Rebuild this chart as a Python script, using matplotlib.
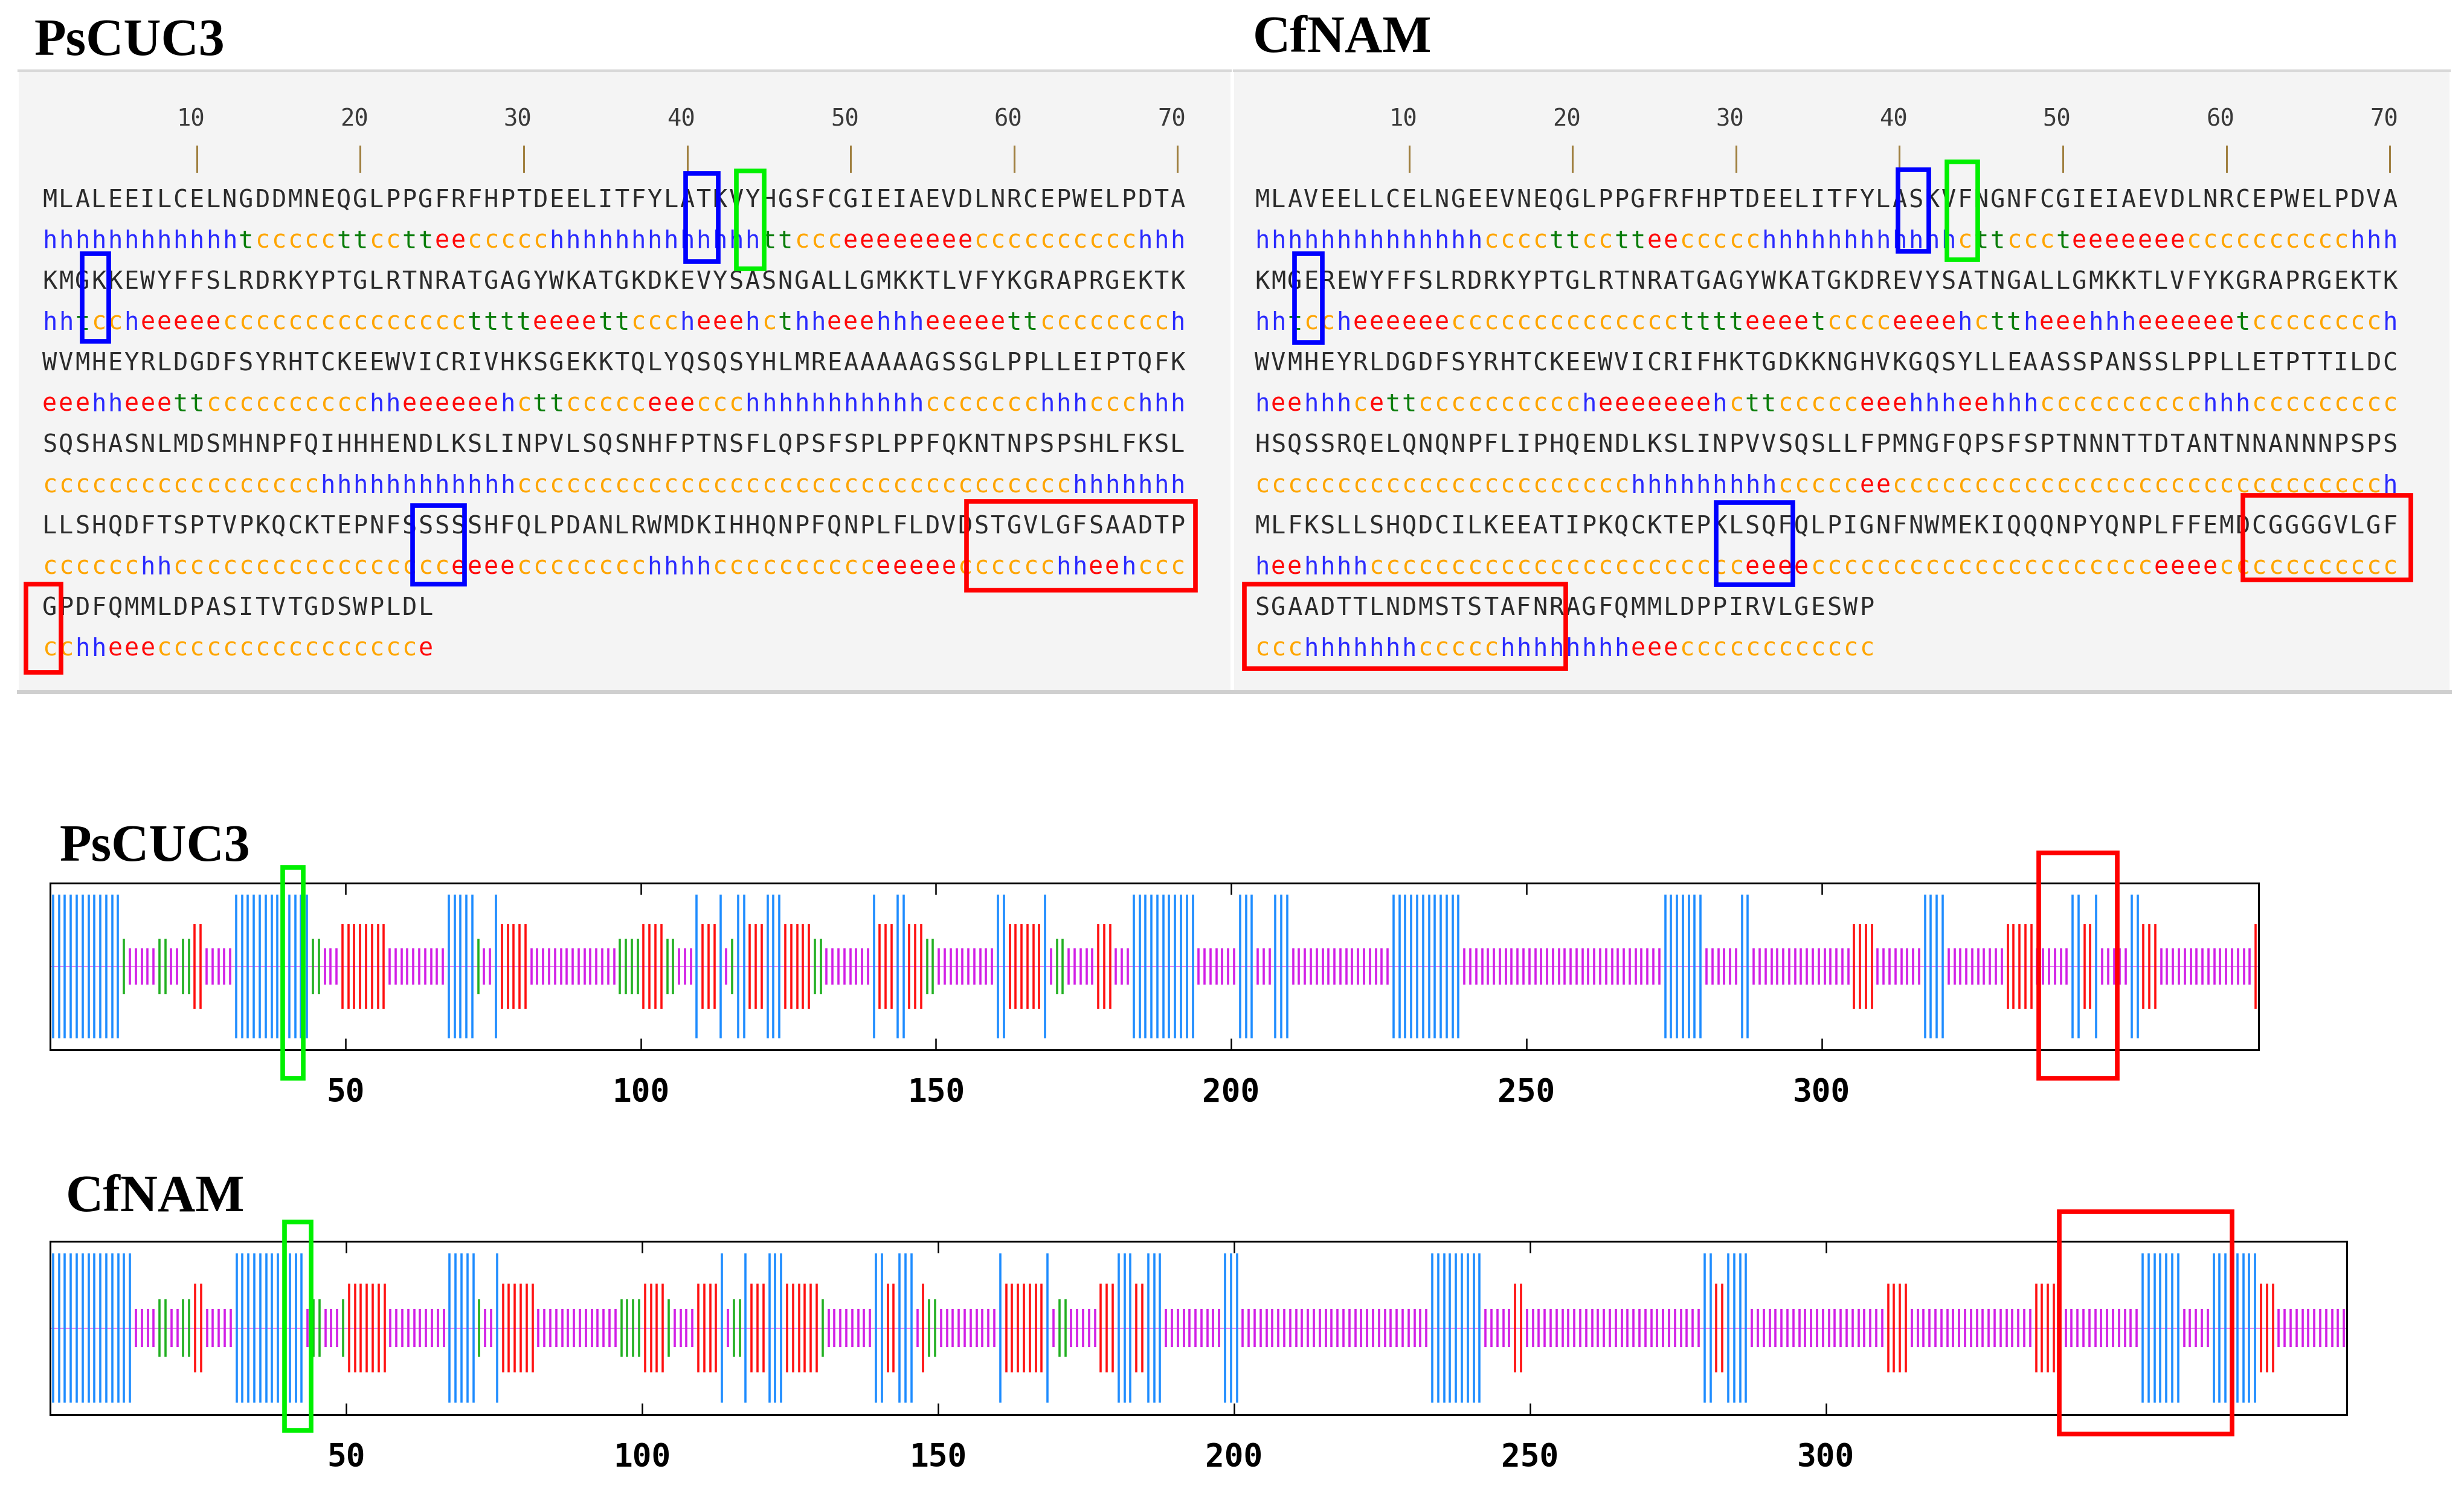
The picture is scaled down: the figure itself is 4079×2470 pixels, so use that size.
import numpy as np
import matplotlib
matplotlib.use('Agg')
import matplotlib.pyplot as plt
from matplotlib.patches import Rectangle

# ======================= data =======================
ps_seq = [
    "MLALEEILCELNGDDMNEQGLPPGFRFHPTDEELITFYLATKVYHGSFCGIEIAEVDLNRCEPWELPDTA",
    "KMGKKEWYFFSLRDRKYPTGLRTNRATGAGYWKATGKDKEVYSASNGALLGMKKTLVFYKGRAPRGEKTK",
    "WVMHEYRLDGDFSYRHTCKEEWVICRIVHKSGEKKTQLYQSQSYHLMREAAAAAGSSGLPPLLEIPTQFK",
    "SQSHASNLMDSMHNPFQIHHHENDLKSLINPVLSQSNHFPTNSFLQPSFSPLPPFQKNTNPSPSHLFKSL",
    "LLSHQDFTSPTVPKQCKTEPNFSSSSSHFQLPDANLRWMDKIHHQNPFQNPLFLDVDSTGVLGFSAADTP",
    "GPDFQMMLDPASITVTGDSWPLDL",
]
ps_ss = [
    ("hhhhhhhhhhhh" "tccccc" "ttcctt" "ee" "ccccc" "hhhhhhhhhhhhh" "ttccc"
     "eeeeeeee" "cccccccccc" "hhh"),
    ("hhtcch" "eeeee" "ccccccccccccccc" "tttteeeett" "ccch" "eeeh" "cthh" "eee"
     "hhh" "eeeeett" "cccccccc" "h"),
    ("eeehheeett" "cccccccccc" "hh" "eeeeee" "hctt" "ccccc" "eeeccc"
     "hhhhhhhhhhh" "ccccccc" "hhhccchhh"),
    ("ccccccccccccccccc" "hhhhhhhhhhhh"
     "cccccccccccccccccccccccccccccccccc" "hhhhhhh"),
    ("cccccchh" "ccccccccccccccccc" "eeee" "cccccccc" "hhhh" "cccccccccc"
     "eeeee" "cccccc" "hheehccc"),
    "cchheee" "cccccccccccccccc" "e",
]

cf_seq = [
    "MLAVEELLCELNGEEVNEQGLPPGFRFHPTDEELITFYLASKVFNGNFCGIEIAEVDLNRCEPWELPDVA",
    "KMGEREWYFFSLRDRKYPTGLRTNRATGAGYWKATGKDREVYSATNGALLGMKKTLVFYKGRAPRGEKTK",
    "WVMHEYRLDGDFSYRHTCKEEWVICRIFHKTGDKKNGHVKGQSYLLEAASSPANSSLPPLLETPTTILDC",
    "HSQSSRQELQNQNPFLIPHQENDLKSLINPVVSQSLLFPMNGFQPSFSPTNNNTTDTANTNNANNNPSPS",
    "MLFKSLLSHQDCILKEEATIPKQCKTEPKLSQFQLPIGNFNWMEKIQQQNPYQNPLFFEMDCGGGGVLGF",
    "SGAADTTLNDMSTSTAFNRAGFQMMLDPPIRVLGESWP",
]
cf_ss = [
    ("hhhhhhhhhhhhhh" "cccc" "ttcctt" "ee" "ccccc" "hhhhhhhhhhhh" "cttccct"
     "eeeeeee" "cccccccccc" "hhh"),
    ("hhtcch" "eeeeee" "cccccccccccccc" "tttteeeet" "cccc" "eeee" "hctth" "eee"
     "hhh" "eeeeee" "t" "cccccccc" "h"),
    ("heehhhcett" "cccccccccc" "h" "eeeeeee" "hctt" "ccccc" "eeehhheehhh"
     "cccccccccc" "hhh" "ccccccccc"),
    ("ccccccccccccccccccccccc" "hhhhhhhhh" "cccccee"
     "cccccccccccccccccccccccccccccc" "h"),
    ("heehhhh" "cccccccccccccccccccccc" "ceeee" "ccccccccccccccccccccc"
     "eeeecc" "ccccccccc"),
    "ccchhhhhhhccccchhhhhhhheee" "cccccccccccc",
]

ruler_marks = [10, 20, 30, 40, 50, 60, 70]
track_ticks = [50, 100, 150, 200, 250, 300]

# highlight boxes: (colour, x0, x1, y0, y1) in character / row units
ps_boxes = [
    ('blue', 39.4, 41.4, -0.83, 1.33), ('lime', 42.5, 44.2, -0.89, 1.51),
    ('blue', 2.5, 4.1, 1.14, 3.29), ('blue', 22.7, 25.9, 7.32, 9.24),
    ('red', 56.6, 70.6, 7.21, 9.39), ('red', -0.95, 1.18, 9.24, 11.41),
]
cf_boxes = [
    ('blue', 39.4, 41.3, -0.92, 1.08), ('lime', 42.4, 44.3, -1.11, 1.29),
    ('blue', 2.5, 4.2, 1.14, 3.32), ('blue', 28.3, 33.0, 7.24, 9.26),
    ('red', 60.5, 70.8, 7.07, 9.14), ('red', -0.58, 19.1, 9.24, 11.32),
]
# track boxes in residue units
ps_track_boxes = [('lime', 39.4, 42.9, -1.34, 1.19), ('red', 336.8, 350.1, -1.34, 1.36)]
cf_track_boxes = [('lime', 39.6, 44.1, -1.18, 1.22), ('red', 339.4, 368.6, -1.22, 1.34)]

ss_text_col = {'h': '#2a2aff', 'e': '#ff0a0a', 't': '#0a7d0a', 'c': '#ffa500'}
bar_col = {'h': '#1e8cff', 'e': '#ff1010', 't': '#22b022', 'c': '#d21ee6'}
bar_half = {'h': 0.86, 'e': 0.51, 't': 0.33, 'c': 0.22}
box_col = {'blue': '#0000ff', 'lime': '#00f000', 'red': '#ff0000'}

W, H = 4080, 2470
fig = plt.figure(figsize=(W / 100, H / 100), dpi=100)
fig.patch.set_facecolor('white')


def fbox(x0, y0, x1, y1):
    # pixel box -> figure fraction
    return [x0 / W, 1 - y1 / H, (x1 - x0) / W, (y1 - y0) / H]


def draw_panel(rect, seqs, sss, boxes, xl):
    ax = fig.add_axes(rect)
    ax.set_xlim(*xl)
    ax.set_ylim(11.88, -3.35)
    ax.set_facecolor('#f4f4f4')
    ax.set_xticks([])
    ax.set_yticks([])
    for s in ['left', 'right']:
        ax.spines[s].set_visible(False)
    ax.spines['top'].set_color('#d8d8d8')
    ax.spines['top'].set_linewidth(3)
    ax.spines['bottom'].set_color('#cfcfcf')
    ax.spines['bottom'].set_linewidth(5)
    for m in ruler_marks:
        ax.text(m, -2.0, str(m), ha='right', va='baseline', family='DejaVu Sans Mono',
                fontsize=28, color='#3a3a3a')
        ax.plot([m - 0.5, m - 0.5], [-1.5, -0.87], color='#a08040', lw=2.2)
    for r, (s, ss) in enumerate(zip(seqs, sss)):
        for k, ch in enumerate(s):
            ax.text(k + 0.5, 2 * r, ch, ha='center', va='baseline',
                    family='DejaVu Sans Mono', fontsize=29, color='#2b2b2b')
        for k, ch in enumerate(ss):
            ax.text(k + 0.5, 2 * r + 1, ch, ha='center', va='baseline',
                    family='DejaVu Sans Mono', fontsize=29, color=ss_text_col[ch])
    for c, x0, x1, y0, y1 in boxes:
        ax.add_patch(Rectangle((x0, y0), x1 - x0, y1 - y0, fill=False,
                               ec=box_col[c], lw=5.5, clip_on=False, zorder=5))
    return ax


def draw_track(rect, sss, boxes):
    ss = ''.join(sss)
    n = len(ss)
    ax = fig.add_axes(rect)
    ax.set_xlim(0, n)
    ax.set_ylim(-1, 1)
    x = np.arange(n) + 0.5
    ax.axhline(0, color='#e070f0', lw=1.2, zorder=1)
    for typ in 'cthe':
        idx = [i for i, ch in enumerate(ss) if ch == typ]
        ax.vlines(x[idx], -bar_half[typ], bar_half[typ], color=bar_col[typ], lw=2.6, zorder=2)
    ax.set_yticks([])
    ax.set_xticks(track_ticks)
    ax.set_xticklabels([str(t) for t in track_ticks], family='DejaVu Sans Mono',
                       fontweight='bold', fontsize=38)
    ax.tick_params(axis='x', direction='in', top=True, length=14, width=1.8, pad=32)
    for s in ax.spines.values():
        s.set_linewidth(2.2)
    for c, x0, x1, y0, y1 in boxes:
        ax.add_patch(Rectangle((x0, y0), x1 - x0, y1 - y0, fill=False,
                               ec=box_col[c], lw=5.5, clip_on=False, zorder=5))
    return ax


draw_panel(fbox(31, 117, 2037, 1145), ps_seq, ps_ss, ps_boxes, (-1.39, 72.74))
draw_panel(fbox(2043, 117, 4055, 1145), cf_seq, cf_ss, cf_boxes, (-1.2, 73.15))

title_kw = dict(family='Liberation Serif', fontweight='bold', fontsize=62, va='baseline')
fig.text(57 / W, 1 - 91 / H, 'PsCUC3', **title_kw)
fig.text(2074 / W, 1 - 86 / H, 'CfNAM', **title_kw)
fig.text(99 / W, 1 - 1425 / H, 'PsCUC3', **title_kw)
fig.text(109 / W, 1 - 2005 / H, 'CfNAM', **title_kw)

draw_track(fbox(83, 1462, 3739, 1738), ps_ss, ps_track_boxes)
draw_track(fbox(83, 2055, 3885, 2342), cf_ss, cf_track_boxes)

fig.savefig('out.png', dpi=100, facecolor='white')
